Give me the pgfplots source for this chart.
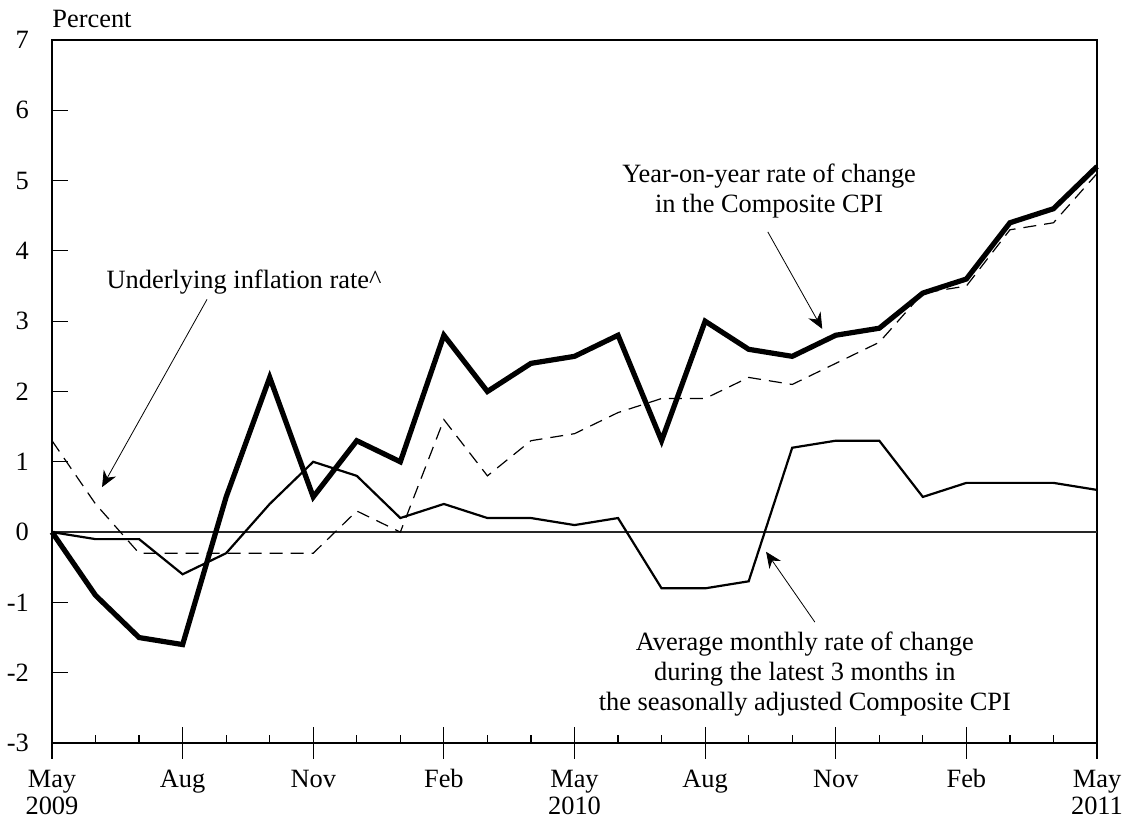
\documentclass[border=0pt]{standalone}
\usepackage{fontspec}
\setmainfont{Liberation Serif}
\usepackage{pgfplots}
\pgfplotsset{compat=1.18}
\usetikzlibrary{arrows.meta}

\begin{document}
\begin{tikzpicture}[font=\fontsize{13.2}{13.6}\selectfont]
\begin{axis}[
	scale only axis,
	width=522.5pt, height=351.5pt,
	xmin=0, xmax=24, ymin=-3, ymax=7,
	axis line style={line width=0.6pt},
	ytick={-3,-2,...,7},
	yticklabels={-3,-2,-1,0,1,2,3,4,5,6,7},
	ytick pos=left, xtick pos=bottom,
	tick align=inside,
	major tick length=8pt, minor tick length=4pt,
	tick style={line width=0.6pt, black},
	xtick={0,3,...,24},
	xticklabels={{\strut May\\2009},\strut Aug,\strut Nov,\strut Feb,{\strut May\\2010},\strut Aug,\strut Nov,\strut Feb,{\strut May\\2011}},
	xticklabel style={align=center, yshift=-9pt},
	yticklabel style={xshift=-8pt},
	minor x tick num=2,
	extra x ticks={0,3,...,24},
	extra x tick labels={},
	extra x tick style={tick align=outside},
	clip=false,
]
% zero line
\addplot[black!85, line width=0.6pt] coordinates {(0,0) (24,0)};

% Underlying inflation rate
\addplot[black, line width=0.6pt, dash pattern=on 6.5pt off 4pt] coordinates {
(0,1.3)(1,0.4)(2,-0.3)(3,-0.3)(4,-0.3)(5,-0.3)(6,-0.3)(7,0.3)(8,0.0)
(9,1.6)(10,0.8)(11,1.3)(12,1.4)(13,1.7)(14,1.9)(15,1.9)(16,2.2)(17,2.1)
(18,2.4)(19,2.7)(20,3.4)(21,3.5)(22,4.3)(23,4.4)(24,5.1)
};

% 3-month average, seasonally adjusted
\addplot[black, line width=1.1pt] coordinates {
(0,0.0)(1,-0.1)(2,-0.1)(3,-0.6)(4,-0.3)(5,0.4)(6,1.0)(7,0.8)(8,0.2)
(9,0.4)(10,0.2)(11,0.2)(12,0.1)(13,0.2)(14,-0.8)(15,-0.8)(16,-0.7)(17,1.2)
(18,1.3)(19,1.3)(20,0.5)(21,0.7)(22,0.7)(23,0.7)(24,0.6)
};

% Year-on-year Composite CPI
\addplot[black, line width=2.6pt] coordinates {
(0,0)(1,-0.9)(2,-1.5)(3,-1.6)(4,0.5)(5,2.2)(6,0.5)(7,1.3)(8,1.0)
(9,2.8)(10,2.0)(11,2.4)(12,2.5)(13,2.8)(14,1.3)(15,3.0)(16,2.6)(17,2.5)
(18,2.8)(19,2.9)(20,3.4)(21,3.6)(22,4.4)(23,4.6)(24,5.2)
};

% annotations
\coordinate (SW) at (rel axis cs:0,0);
\coordinate (NE) at (rel axis cs:1,1);
\node[anchor=south west, inner sep=0pt] at (rel axis cs:0,1) [yshift=6pt] {Percent};

\node at (axis cs:4.41,3.56) {Underlying inflation rate\textasciicircum};
\draw[line width=0.4pt, -{Stealth[length=8pt,width=7pt]}] (axis cs:3.56,3.31) -- (axis cs:1.15,0.64);

\node[align=center] at (axis cs:16.47,4.85) {Year-on-year rate of change\\[1.4pt]in the Composite CPI};
\draw[line width=0.4pt, -{Stealth[length=8pt,width=7pt]}] (axis cs:16.44,4.27) -- (axis cs:17.69,2.89);

\node[align=center] at (axis cs:17.29,-2.02) {Average monthly rate of change\\[1.4pt]during the latest 3 months in\\[1.4pt]the seasonally adjusted Composite CPI};
\draw[line width=0.4pt, -{Stealth[length=8pt,width=7pt]}] (axis cs:17.52,-1.28) -- (axis cs:16.40,-0.28);
\end{axis}
\pgfresetboundingbox
\path[use as bounding box] ([xshift=-26pt,yshift=-40.5pt]SW) rectangle ([xshift=14pt,yshift=20pt]NE);
\end{tikzpicture}
\end{document}
